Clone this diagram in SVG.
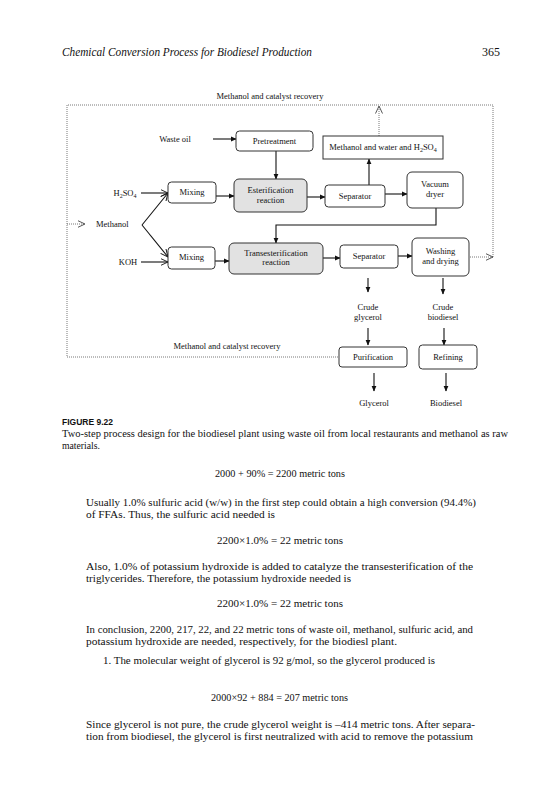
<svg xmlns="http://www.w3.org/2000/svg" width="558" height="800" viewBox="0 0 558 800">
<defs>
<style>
.t{font-family:"Liberation Serif",serif;fill:#111}
.d{font-family:"Liberation Serif",serif;font-size:8.5px;fill:#111;text-anchor:middle}
.dl{font-family:"Liberation Serif",serif;font-size:8.5px;fill:#111}
.b{fill:#fff;stroke:#333;stroke-width:1}
.g{fill:#e2e2e2;stroke:#333;stroke-width:1}
.ln{fill:none;stroke:#111;stroke-width:1.1}
.dot{fill:none;stroke:#555;stroke-width:0.8;stroke-dasharray:1 1}
.body{font-family:"Liberation Serif",serif;font-size:11px;fill:#111}
</style>
<marker id="sa" markerWidth="6" markerHeight="6" refX="5" refY="3" orient="auto" markerUnits="userSpaceOnUse">
<path d="M0,0.6 L5.5,3 L0,5.4 Z" fill="#111"/>
</marker>
<marker id="oa" markerWidth="9" markerHeight="8" refX="7.5" refY="4" orient="auto" markerUnits="userSpaceOnUse">
<path d="M0,0.5 L7.5,4 L0,7.5" fill="none" stroke="#111" stroke-width="0.9"/>
</marker>
<marker id="od" markerWidth="9" markerHeight="8" refX="7.5" refY="4" orient="auto" markerUnits="userSpaceOnUse">
<path d="M0,0.5 L7.5,4 L0,7.5" fill="none" stroke="#444" stroke-width="0.9"/>
</marker>
</defs>
<rect width="558" height="800" fill="#fff"/>

<!-- page header -->
<text class="t" x="62" y="56" font-size="12" font-style="italic" textLength="250" lengthAdjust="spacingAndGlyphs">Chemical Conversion Process for Biodiesel Production</text>
<text class="t" x="500" y="56" font-size="12" text-anchor="end">365</text>

<!-- labels -->
<text class="d" x="270" y="99">Methanol and catalyst recovery</text>
<text class="d" x="227" y="349">Methanol and catalyst recovery</text>

<!-- connectors -->
<g id="connectors">
<path class="dot" d="M340,357 H67 V105 H493 V257"/>
<line class="dot" x1="379" y1="136" x2="379" y2="106" marker-end="url(#od)"/>
<line class="dot" x1="470" y1="257" x2="493" y2="257" marker-end="url(#od)"/>
<line class="dot" x1="67" y1="224" x2="85" y2="224" marker-end="url(#od)"/>
<line class="ln" x1="213" y1="139" x2="236" y2="139" marker-end="url(#sa)"/>
<line class="ln" x1="141" y1="193" x2="168" y2="193" marker-end="url(#oa)"/>
<line class="ln" x1="141" y1="262" x2="168" y2="262" marker-end="url(#oa)"/>
<line class="ln" x1="142" y1="225" x2="168" y2="193" marker-end="url(#oa)"/>
<line class="ln" x1="142" y1="225" x2="168" y2="257" marker-end="url(#oa)"/>
<line class="ln" x1="276" y1="151" x2="276" y2="179" marker-end="url(#sa)"/>
<line class="ln" x1="216" y1="196" x2="234" y2="196" marker-end="url(#sa)"/>
<line class="ln" x1="307" y1="197" x2="325" y2="197" marker-end="url(#sa)"/>
<line class="ln" x1="385" y1="194" x2="407" y2="194" marker-end="url(#sa)"/>
<line class="ln" x1="369" y1="185" x2="369" y2="159" marker-end="url(#sa)"/>
<path class="ln" d="M436,208 V225 H276 V243" marker-end="url(#sa)"/>
<line class="ln" x1="215" y1="261" x2="229" y2="261" marker-end="url(#sa)"/>
<line class="ln" x1="323" y1="258" x2="340" y2="258" marker-end="url(#sa)"/>
<line class="ln" x1="398" y1="256" x2="412" y2="256" marker-end="url(#sa)"/>
<line class="ln" x1="368" y1="278" x2="368" y2="292" marker-end="url(#sa)"/>
<line class="ln" x1="443" y1="278" x2="443" y2="294" marker-end="url(#sa)"/>
<line class="ln" x1="368" y1="328" x2="368" y2="345" marker-end="url(#sa)"/>
<line class="ln" x1="444" y1="328" x2="444" y2="345" marker-end="url(#sa)"/>
<line class="ln" x1="374" y1="373" x2="374" y2="391" marker-end="url(#sa)"/>
<line class="ln" x1="446" y1="373" x2="446" y2="391" marker-end="url(#sa)"/>
</g>

<!-- plain labels -->
<g id="waste-oil"><text class="d" x="175" y="142">Waste oil</text></g>
<g id="h2so4"><text class="d" x="125" y="196">H<tspan font-size="6" dy="2">2</tspan><tspan dy="-2">SO</tspan><tspan font-size="6" dy="2">4</tspan></text></g>
<g id="methanol"><text class="dl" x="96" y="227">Methanol</text></g>
<g id="koh"><text class="d" x="128" y="265">KOH</text></g>

<!-- nodes -->
<g id="pretreatment"><rect class="b" x="236" y="131" width="77" height="20" rx="3.5"/><text class="d" x="274.5" y="144">Pretreatment</text></g>
<g id="mwh"><rect class="b" x="323" y="136" width="120" height="23"/><text class="d" x="383" y="150">Methanol and water and H<tspan font-size="6" dy="2">2</tspan><tspan dy="-2">SO</tspan><tspan font-size="6" dy="2">4</tspan></text></g>
<g id="mixing1"><rect class="b" x="168" y="182" width="48" height="21" rx="3.5"/><text class="d" x="192" y="195">Mixing</text></g>
<g id="esterification"><rect class="g" x="234" y="179" width="73" height="33" rx="5"/><text class="d" x="270.5" y="193">Esterification</text><text class="d" x="270.5" y="203">reaction</text></g>
<g id="separator1"><rect class="b" x="325" y="185" width="60" height="22" rx="3.5"/><text class="d" x="355" y="199">Separator</text></g>
<g id="vacuum"><rect class="b" x="407" y="172" width="56" height="36" rx="5"/><text class="d" x="435" y="187">Vacuum</text><text class="d" x="435" y="197">dryer</text></g>
<g id="mixing2"><rect class="b" x="168" y="247" width="47" height="22" rx="3.5"/><text class="d" x="191.5" y="260">Mixing</text></g>
<g id="transesterification"><rect class="g" x="229" y="243" width="94" height="31" rx="5"/><text class="d" x="276" y="256">Transesterification</text><text class="d" x="276" y="265">reaction</text></g>
<g id="separator2"><rect class="b" x="340" y="245" width="58" height="23" rx="3.5"/><text class="d" x="369" y="259">Separator</text></g>
<g id="washing"><rect class="b" x="412" y="238" width="57" height="38" rx="5"/><text class="d" x="440.5" y="254">Washing</text><text class="d" x="440.5" y="264">and drying</text></g>
<g id="crude-glycerol"><text class="d" x="368" y="310">Crude</text><text class="d" x="368" y="320">glycerol</text></g>
<g id="crude-biodiesel"><text class="d" x="443" y="310">Crude</text><text class="d" x="443" y="320">biodiesel</text></g>
<g id="purification"><rect class="b" x="339" y="347" width="68" height="20" rx="3"/><text class="d" x="373" y="360">Purification</text></g>
<g id="refining"><rect class="b" x="419" y="345" width="58" height="24" rx="3.5"/><text class="d" x="448" y="360">Refining</text></g>
<g id="glycerol"><text class="d" x="374" y="406">Glycerol</text></g>
<g id="biodiesel"><text class="d" x="446" y="406">Biodiesel</text></g>

<!-- caption -->
<text x="62" y="425" font-family="'Liberation Sans',sans-serif" font-weight="bold" font-size="9" fill="#111" textLength="51" lengthAdjust="spacingAndGlyphs">FIGURE 9.22</text>
<text class="t" x="62" y="437" font-size="10" textLength="446" lengthAdjust="spacingAndGlyphs">Two-step process design for the biodiesel plant using waste oil from local restaurants and methanol as raw</text>
<text class="t" x="62" y="449" font-size="10" textLength="38" lengthAdjust="spacingAndGlyphs">materials.</text>

<!-- body -->
<text class="body" x="215" y="477" textLength="130" lengthAdjust="spacingAndGlyphs">2000 + 90%  = 2200 metric tons</text>
<text class="body" x="86" y="506" textLength="390" lengthAdjust="spacingAndGlyphs">Usually 1.0% sulfuric acid (w/w) in the first step could obtain a high conversion (94.4%)</text>
<text class="body" x="86" y="518" textLength="189" lengthAdjust="spacingAndGlyphs">of FFAs. Thus, the sulfuric acid needed is</text>
<text class="body" x="217" y="544" textLength="126" lengthAdjust="spacingAndGlyphs">2200×1.0%  =  22 metric tons</text>
<text class="body" x="86" y="570" textLength="387" lengthAdjust="spacingAndGlyphs">Also, 1.0% of potassium hydroxide is added to catalyze the transesterification of the</text>
<text class="body" x="86" y="582" textLength="265" lengthAdjust="spacingAndGlyphs">triglycerides. Therefore, the potassium hydroxide needed is</text>
<text class="body" x="217" y="607" textLength="126" lengthAdjust="spacingAndGlyphs">2200×1.0%  =  22 metric tons</text>
<text class="body" x="86" y="633" textLength="387" lengthAdjust="spacingAndGlyphs">In conclusion, 2200, 217, 22, and 22 metric tons of waste oil, methanol, sulfuric acid, and</text>
<text class="body" x="86" y="645" textLength="311" lengthAdjust="spacingAndGlyphs">potassium hydroxide are needed, respectively, for the biodiesl plant.</text>
<text class="body" x="103" y="664" textLength="332" lengthAdjust="spacingAndGlyphs">1.  The molecular weight of glycerol is 92 g/mol, so the glycerol produced is</text>
<text class="body" x="211" y="701" textLength="137" lengthAdjust="spacingAndGlyphs">2000×92 + 884 = 207 metric tons</text>
<text class="body" x="86" y="728" textLength="389" lengthAdjust="spacingAndGlyphs">Since glycerol is not pure, the crude glycerol weight is –414 metric tons. After separa-</text>
<text class="body" x="86" y="740" textLength="387" lengthAdjust="spacingAndGlyphs">tion from biodiesel, the glycerol is first neutralized with acid to remove the potassium</text>
</svg>
